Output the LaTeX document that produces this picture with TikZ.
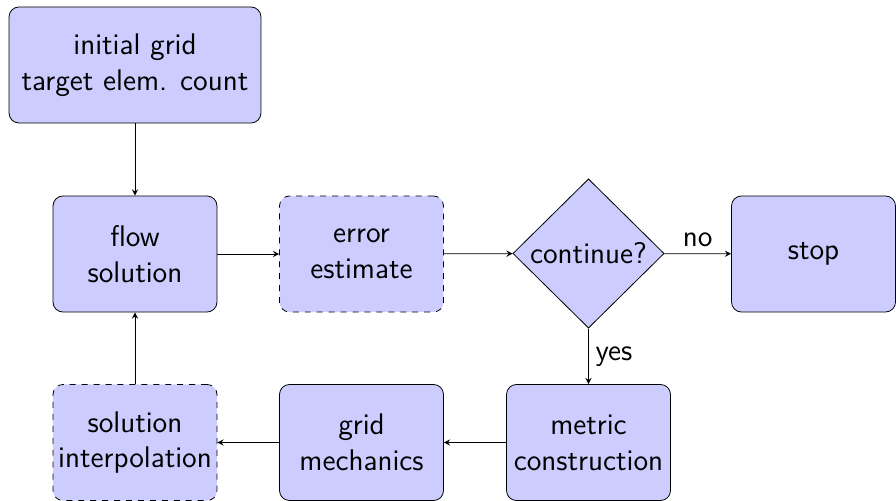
\documentclass[tikz,border=0pt]{standalone}
\usetikzlibrary{shapes.geometric,arrows}
\begin{document}
\begin{tikzpicture}[x=0.5025pt,y=-0.5025pt,
  font=\fontsize{15}{18}\selectfont\sffamily,
  box/.style={draw,fill=blue!20,rounded corners=5pt,align=center,
    minimum width=82.4pt,minimum height=58.3pt,inner sep=1pt},
  dbox/.style={box,dashed},
  dec/.style={draw,fill=blue!20,diamond,aspect=1,inner sep=0pt,
    minimum width=76pt,minimum height=75pt},
  conn/.style={-stealth}]
\useasboundingbox (0,0) rectangle (896,501);
\node[box,minimum width=126.6pt] (init) at (135,65) {initial grid\\target elem. count};
\node[box] (flow) at (135,254) {flow\\solution};
\node[dbox] (err) at (361.5,254) {error\\estimate};
\node[dec] (cont) at (588.5,253.5) {continue?};
\node[box] (stop) at (813.5,254) {stop};
\node[box] (metric) at (588.5,442.5) {metric\\construction};
\node[box] (mech) at (361.5,442.5) {grid\\mechanics};
\node[dbox] (interp) at (135,442.5) {solution\\interpolation};
\draw[conn] (init) -- (flow);
\draw[conn] (flow) -- (err);
\draw[conn] (err) -- (cont);
\draw[conn] (cont) -- node[above] {no} (stop);
\draw[conn] (cont) -- node[right] {yes} (metric);
\draw[conn] (metric) -- (mech);
\draw[conn] (mech) -- (interp);
\draw[conn] (interp) -- (flow);
\end{tikzpicture}
\end{document}
